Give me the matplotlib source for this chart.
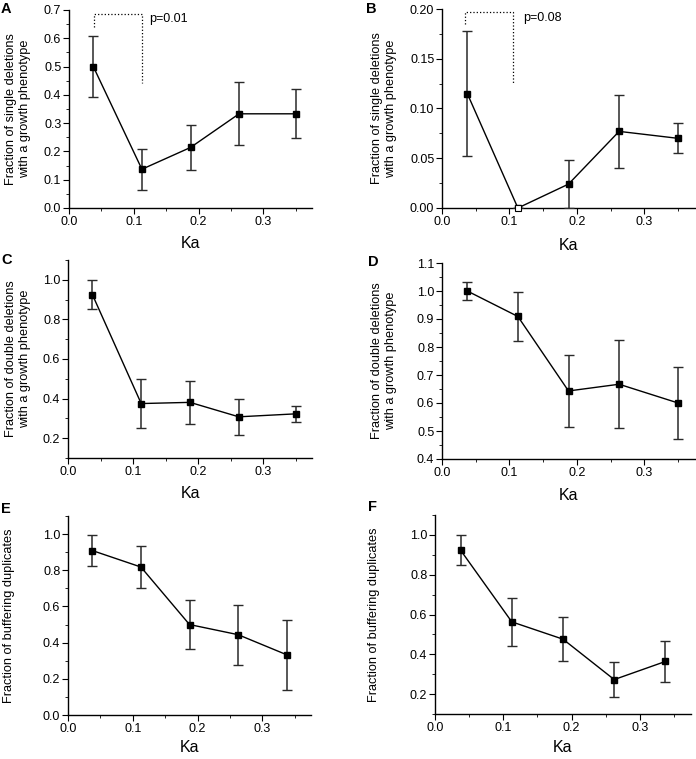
import matplotlib.pyplot as plt
from matplotlib.ticker import MultipleLocator, AutoMinorLocator

plt.rcParams['font.family'] = ['Liberation Sans', 'DejaVu Sans']

# data
ka = [0.0375, 0.1125, 0.1875, 0.2625, 0.35]
ka_dup = [0.0375, 0.1125, 0.1875, 0.2625, 0.3375]

single_s = [0.5, 0.137, 0.214, 0.333, 0.333]
single_s_err = [0.107, 0.073, 0.078, 0.112, 0.086]

single_w = [0.115, 0.0, 0.024, 0.077, 0.070]
single_w_err = [0.0625, 0.0, 0.024, 0.037, 0.015]

double_s = [0.925, 0.375, 0.381, 0.308, 0.323]
double_s_err = [0.075, 0.123, 0.107, 0.092, 0.040]

double_w = [1.0, 0.909, 0.643, 0.667, 0.6]
double_w_err = [0.032, 0.086, 0.128, 0.157, 0.127]

buff_s = [0.909, 0.818, 0.5, 0.444, 0.333]
buff_s_err = [0.087, 0.117, 0.135, 0.165, 0.193]

buff_w = [0.923, 0.563, 0.476, 0.273, 0.364]
buff_w_err = [0.075, 0.122, 0.110, 0.088, 0.102]

lab_single = "Fraction of single deletions\nwith a growth phenotype"
lab_double = "Fraction of double deletions\nwith a growth phenotype"
lab_buff = "Fraction of buffering duplicates"

W, H = 696, 759
fig = plt.figure(figsize=(W / 100, H / 100), dpi=100)


def make_ax(left, right, top, bottom):
    return fig.add_axes([left / W, 1 - bottom / H, (right - left) / W, (bottom - top) / H])


def panel(box, x, y, err, ylim, ymajor, ylabel, lab_x, ka_y, fmt, open_idx=None):
    left, right, top, bottom = box
    ax = make_ax(left, right, top, bottom)
    ax.errorbar(x, y, yerr=err, color='black', ecolor='#2a2a2a', elinewidth=1.1,
                capsize=3.5, capthick=1.0, lw=1.0, marker='s', ms=4,
                mfc='black', mec='black', zorder=3)
    if open_idx is not None:
        ax.plot(x[open_idx], y[open_idx], 's', ms=4, mfc='white', mec='black',
                mew=0.8, zorder=4, clip_on=False)
    ax.set_xlim(0, 0.375)
    ax.set_ylim(*ylim)
    ax.xaxis.set_major_locator(MultipleLocator(0.1))
    ax.xaxis.set_minor_locator(MultipleLocator(0.05))
    ax.yaxis.set_major_locator(MultipleLocator(ymajor))
    ax.yaxis.set_minor_locator(AutoMinorLocator(2))
    ax.yaxis.set_major_formatter(plt.FormatStrFormatter(fmt))
    ax.xaxis.set_major_formatter(plt.FormatStrFormatter('%.1f'))
    for s in ['top', 'right']:
        ax.spines[s].set_visible(False)
    for s in ['left', 'bottom']:
        ax.spines[s].set_linewidth(1.0)
    ax.tick_params(which='major', direction='out', length=4, width=0.8, labelsize=9, pad=1.5)
    ax.tick_params(which='minor', direction='out', length=2, width=0.6)
    fig.text(lab_x / W, 1 - (top + bottom) / 2 / H, ylabel, rotation=90, fontsize=9.2,
             ha='center', va='center', multialignment='center', linespacing=1.25)
    fig.text((left + right) / 2 / W, 1 - ka_y / H, "Ka", fontsize=11.5,
             ha='center', va='center')
    return ax


axA = panel((69, 312, 10, 208), ka, single_s, single_s_err, (0, 0.7), 0.1,
            lab_single, 18, 243, '%.1f')
axA.plot([0.038, 0.038, 0.113, 0.113], [0.641, 0.685, 0.685, 0.441],
         ls=':', color='black', lw=0.9)
axA.text(0.124, 0.667, "p=0.01", fontsize=9, va='center')

axB = panel((442, 695, 9, 208), ka, single_w, single_w_err, (0, 0.2), 0.05,
            lab_single, 384, 245, '%.2f', open_idx=1)
axB.plot([0.034, 0.034, 0.105, 0.105], [0.185, 0.1967, 0.1967, 0.1248],
         ls=':', color='black', lw=0.9)
axB.text(0.12, 0.191, "p=0.08", fontsize=9, va='center')

panel((68, 312, 260, 458), ka, double_s, double_s_err, (0.1, 1.1), 0.2,
      lab_double, 18, 493, '%.1f')
panel((442, 695, 263, 459), ka, double_w, double_w_err, (0.4, 1.1), 0.1,
      lab_double, 384, 496, '%.1f')
panel((68, 311, 516, 715), ka_dup, buff_s, buff_s_err, (0, 1.1), 0.2,
      lab_buff, 9, 748, '%.1f')
panel((435, 691, 515, 714), ka_dup, buff_w, buff_w_err, (0.1, 1.1), 0.2,
      lab_buff, 374, 748, '%.1f')

# panel letters
for letter, px, py in [("A", 1, 9), ("B", 366, 9), ("C", 1, 260), ("D", 368, 262),
                       ("E", 1, 509), ("F", 368, 507)]:
    fig.text(px / W, 1 - py / H, letter, fontsize=10.5, fontweight='bold', va='center')

fig.savefig("out.png", dpi=100)
